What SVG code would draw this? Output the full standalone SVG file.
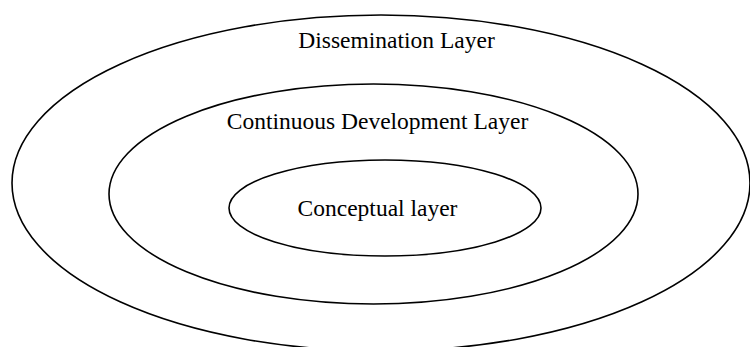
<svg xmlns="http://www.w3.org/2000/svg" width="750" height="347" viewBox="0 0 750 347">
<style>
.ring{fill:none;stroke:#000;stroke-width:1.6}
.lbl{font-family:"Liberation Serif","Times New Roman",serif;font-size:23.5px;fill:#000;text-anchor:middle}
</style>
<rect width="750" height="347" fill="#fff"/>
<g id="dissemination">
<ellipse class="ring" cx="381" cy="183" rx="369" ry="168"/>
<text class="lbl" x="396.5" y="48">Dissemination Layer</text>
</g>
<g id="continuous">
<ellipse class="ring" cx="373.5" cy="194" rx="264.5" ry="110"/>
<text class="lbl" x="377.5" y="129">Continuous Development Layer</text>
</g>
<g id="conceptual">
<ellipse class="ring" cx="385" cy="208" rx="156" ry="48"/>
<text class="lbl" x="377.5" y="216">Conceptual layer</text>
</g>
<g id="connectors"/>
</svg>
